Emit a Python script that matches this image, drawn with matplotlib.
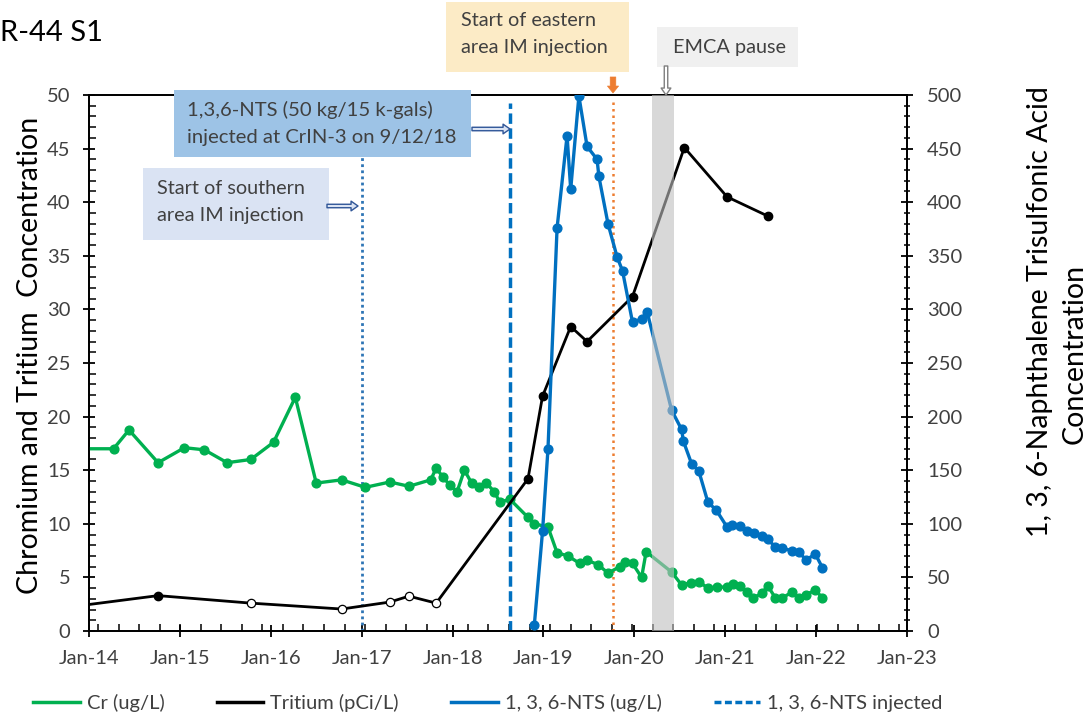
import matplotlib
matplotlib.use("Agg")
import matplotlib.pyplot as plt
from matplotlib.patches import Rectangle, FancyArrowPatch
from matplotlib.lines import Line2D
from matplotlib.ticker import MultipleLocator, FixedLocator

plt.rcParams['font.family'] = ['Lato', 'DejaVu Sans']

W, H = 1092, 719

# ---- data (x in decimal years) ----
cr_t = [2013.80, 2014.27, 2014.44, 2014.76, 2015.05, 2015.27, 2015.52, 2015.78, 2016.03,
        2016.27, 2016.50, 2016.78, 2017.04, 2017.31, 2017.52, 2017.76, 2017.82, 2017.89,
        2017.97, 2018.05, 2018.13, 2018.21, 2018.29, 2018.37, 2018.46, 2018.52, 2018.63,
        2018.83, 2018.90, 2019.05, 2019.15, 2019.27, 2019.40, 2019.48, 2019.60, 2019.71,
        2019.84, 2019.90, 2019.98, 2020.08, 2020.13, 2020.41, 2020.52, 2020.62, 2020.71,
        2020.81, 2020.91, 2021.02, 2021.09, 2021.16, 2021.24, 2021.31, 2021.40, 2021.47,
        2021.55, 2021.63, 2021.73, 2021.81, 2021.89, 2021.99, 2022.07]
cr_v = [17.0, 17.0, 18.75, 15.7, 17.1, 16.9, 15.7, 16.0, 17.6,
        21.8, 13.8, 14.1, 13.4, 13.9, 13.5, 14.1, 15.2, 14.4,
        13.6, 13.0, 15.0, 13.8, 13.4, 13.8, 13.0, 12.0, 12.3,
        10.6, 10.0, 9.7, 7.3, 7.0, 6.3, 6.6, 6.2, 5.4,
        6.0, 6.4, 6.3, 5.0, 7.4, 5.5, 4.3, 4.5, 4.6,
        4.0, 4.1, 4.1, 4.4, 4.2, 3.6, 3.1, 3.5, 4.2,
        3.1, 3.1, 3.6, 3.1, 3.4, 3.8, 3.1]

tr_t = [2013.75, 2014.76, 2015.78, 2016.78, 2017.31, 2017.52, 2017.82, 2018.83,
        2018.99, 2019.30, 2019.48, 2019.98, 2020.55, 2021.02, 2021.47]
tr_v = [2.2, 3.3, 2.6, 2.05, 2.7, 3.25, 2.6, 14.2,
        21.9, 28.4, 27.0, 31.2, 45.1, 40.5, 38.7]
tr_nondetect = [False, False, True, True, True, True, True, False,
                False, False, False, False, False, False, False]

nts_t = [2018.90, 2018.99, 2019.05, 2019.15, 2019.26, 2019.30, 2019.39, 2019.48, 2019.59,
         2019.61, 2019.71, 2019.81, 2019.87, 2019.98, 2020.08, 2020.14, 2020.41, 2020.52,
         2020.54, 2020.63, 2020.71, 2020.81, 2020.90, 2021.02, 2021.08, 2021.16, 2021.24,
         2021.32, 2021.40, 2021.47, 2021.55, 2021.63, 2021.73, 2021.81, 2021.89, 2021.99,
         2022.07]
nts_v = [6, 93, 170, 376, 462, 412, 499, 452, 440,
         424, 380, 349, 336, 288, 291, 298, 206, 188,
         177, 156, 149, 120, 113, 97, 99, 98, 93,
         91, 89, 86, 78, 77, 75, 74, 66, 72,
         59]

southern_start = 2017.0
nts_injection = 2018.63
eastern_start = 2019.77
emca_pause = (2020.19, 2020.44)

year_ticks = list(range(2014, 2024))
year_labels = ["Jan-%02d" % (y % 100) for y in year_ticks]

GREEN = "#00B050"
BLUE = "#0070C0"
ORANGE = "#ED7D31"
TXT = "#404040"

fig = plt.figure(figsize=(W / 100, H / 100), dpi=100)
ax1 = fig.add_axes([89 / W, 88 / H, 818 / W, 536 / H])
ax2 = ax1.twinx()

# chromium and tritium on the left axis
ax1.plot(cr_t, cr_v, color=GREEN, lw=2.4, marker='o', ms=6.3, zorder=3)
ax1.plot(tr_t, tr_v, color='black', lw=2.0, zorder=4)
det_t = [t for t, nd in zip(tr_t, tr_nondetect) if not nd]
det_v = [v for v, nd in zip(tr_v, tr_nondetect) if not nd]
nd_t = [t for t, nd in zip(tr_t, tr_nondetect) if nd]
nd_v = [v for v, nd in zip(tr_v, tr_nondetect) if nd]
ax1.plot(det_t, det_v, ls='none', marker='o', ms=6, color='black', zorder=5)
ax1.plot(nd_t, nd_v, ls='none', marker='o', ms=6, mfc='white', mec='black', mew=0.9, zorder=5)

# event lines
ax1.plot([southern_start] * 2, [0, 50], color="#2E75B6", lw=2.0, ls=(0, (1, 1.2)), zorder=2)
ax1.plot([nts_injection] * 2, [0, 49.3], color=BLUE, lw=2.5, ls=(0, (3, 1.3)), zorder=2)
ax1.plot([eastern_start] * 2, [0, 49.5], color=ORANGE, lw=1.8, ls=(0, (1, 1.6)), zorder=2)

# NTS on the right axis
ax2.plot(nts_t, nts_v, color=BLUE, lw=2.4, marker='o', ms=6.3, zorder=3)
ax2.axvspan(*emca_pause, color=(0.75, 0.75, 0.75), alpha=0.6, lw=0, zorder=10)

ax1.set_xlim(2014, 2023)
ax1.set_ylim(0, 50)
ax2.set_ylim(0, 500)

ax1.xaxis.set_major_locator(FixedLocator(year_ticks))
ax1.set_xticklabels(year_labels)
ax1.xaxis.set_minor_locator(MultipleLocator(0.2261))
ax1.yaxis.set_major_locator(MultipleLocator(5))
ax1.yaxis.set_minor_locator(MultipleLocator(1))
ax2.yaxis.set_major_locator(MultipleLocator(50))
ax2.yaxis.set_minor_locator(MultipleLocator(10))

for ax in (ax1, ax2):
    for s in ax.spines.values():
        s.set_linewidth(1.3)
        s.set_color('black')
ax1.tick_params(axis='both', which='major', direction='inout', length=9, width=1.3,
                labelsize=14.5, labelcolor=TXT)
ax1.tick_params(axis='both', which='minor', direction='in', length=5, width=1.1)
ax1.tick_params(axis='x', which='major', pad=9)
ax1.tick_params(axis='y', which='major', pad=9)
ax2.tick_params(axis='y', which='major', direction='inout', length=9, width=1.3,
                labelsize=14.5, labelcolor=TXT, pad=10)
ax2.tick_params(axis='y', which='minor', direction='inout', length=5, width=1.1)

# axis titles
fig.text(30 / W, 1 - 355 / H, "Chromium and Tritium  Concentration", rotation=90,
         ha='center', va='center', fontsize=20.5, color='black')
fig.text(1040 / W, 1 - 312 / H, "1, 3, 6-Naphthalene Trisulfonic Acid", rotation=90,
         ha='center', va='center', fontsize=20.5, color='black')
fig.text(1075 / W, 1 - 354 / H, "Concentration", rotation=90,
         ha='center', va='center', fontsize=20.5, color='black')

# title
fig.text(0 / W, 1 - 33 / H, "R-44 S1", ha='left', va='center', fontsize=21, color='black')


def px_box(x0, y0, x1, y1, fc):
    fig.add_artist(Rectangle((x0 / W, 1 - y1 / H), (x1 - x0) / W, (y1 - y0) / H,
                             transform=fig.transFigure, facecolor=fc, edgecolor='none',
                             zorder=20))


def px_text(x, y, s, size=14.3):
    fig.text(x / W, 1 - y / H, s, ha='left', va='center', fontsize=size, color=TXT, zorder=21)


def px_arrow(x0, y0, x1, y1, style, fc, ec, lw=1.0):
    fig.add_artist(FancyArrowPatch((x0 / W, 1 - y0 / H), (x1 / W, 1 - y1 / H),
                                   transform=fig.transFigure, arrowstyle=style,
                                   facecolor=fc, edgecolor=ec, lw=lw, zorder=22,
                                   shrinkA=0, shrinkB=0))


# annotation boxes
px_box(446, 2, 629, 72, "#FCEBC6")
px_text(461, 21, "Start of eastern")
px_text(461, 47, "area IM injection")

px_box(657, 27, 798, 67, "#F0F0F0")
px_text(673, 47, "EMCA pause")

px_box(174, 90, 471, 157, "#9DC3E6")
px_text(187, 110, "1,3,6-NTS (50 kg/15 k-gals)", size=14.6)
px_text(187, 138, "injected at CrIN-3 on 9/12/18", size=14.6)

px_box(143, 168, 329, 240, "#DAE3F3")
px_text(157, 188, "Start of southern")
px_text(157, 215, "area IM injection")

hollow = "simple,head_length=5,head_width=7,tail_width=2.5"
px_arrow(472, 129, 510, 129, hollow, "#DAE3F3", "#2F5597")
px_arrow(327, 206, 358, 206, hollow, "#DAE3F3", "#2F5597")
px_arrow(666, 66, 666, 95, hollow, "white", "#7F7F7F")
px_arrow(613, 77, 613, 93, "simple,head_length=5,head_width=8,tail_width=4", ORANGE, ORANGE, lw=0.5)

# legend
handles = [Line2D([], [], color=GREEN, lw=2.5),
           Line2D([], [], color='black', lw=2.5),
           Line2D([], [], color=BLUE, lw=2.5),
           Line2D([], [], color=BLUE, lw=2.5, ls=(0, (2, 1)))]
labels = ["Cr (ug/L)", "Tritium (pCi/L)", "1, 3, 6-NTS (ug/L)", "1, 3, 6-NTS injected"]
leg = fig.legend(handles, labels, loc='center', bbox_to_anchor=(488 / W, 1 - 703 / H),
                 ncol=4, frameon=False, fontsize=14.5, handlelength=2.3, handletextpad=0.35,
                 columnspacing=2.6)
for t in leg.get_texts():
    t.set_color(TXT)

fig.savefig("out.png", dpi=100)
